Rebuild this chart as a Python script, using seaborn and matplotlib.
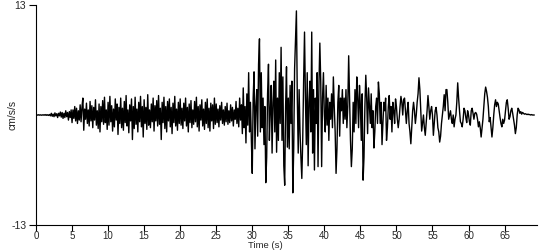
import numpy as np
import pandas as pd
import matplotlib
matplotlib.use("Agg")
import matplotlib.pyplot as plt
import seaborn as sns

# Acceleration samples (cm/s/s), 8 samples per second
seg_00_05 = [0.0, 0.02, -0.02, 0.03, -0.02, 0.02, -0.03, 0.02,
             -0.02, 0.04, -0.03, 0.05, -0.04, 0.03, -0.05, 0.06,
             -0.1, 0.2, -0.15, 0.1, -0.2, 0.25, -0.1, 0.15,
             -0.3, 0.2, -0.1, 0.35, -0.25, 0.3, -0.4, 0.2,
             -0.3, 0.5, -0.2, 0.3, -0.6, 0.4, -0.3, 0.6]
seg_05_10 = [-0.9, 0.6, -0.4, 1.0, -0.7, 0.8, -1.0, 0.5,
             -0.6, 1.2, -0.8, 0.9, 2.0, -1.8, 0.7, -0.5,
             1.4, -1.0, 0.6, -1.3, 1.6, -0.7, 1.1, -1.5,
             0.9, -0.6, 1.8, -1.2, 0.5, -1.6, 1.3, -2.0,
             1.0, -0.8, 1.7, -1.1, 2.1, -0.9, 0.6, -1.7]
seg_10_15 = [1.5, -1.2, 2.2, -0.8, 1.1, -1.9, 0.7, -1.4,
             1.9, -0.6, 1.3, -2.3, 0.9, -1.0, 2.0, -1.5,
             0.8, -1.8, 1.6, -0.9, 2.3, -1.3, 0.6, -2.1,
             1.2, -0.7, 1.9, -2.9, 1.0, -1.6, 2.1, -1.1,
             0.7, -2.0, 1.5, -0.8, 2.2, -1.4, 1.0, -2.6]
seg_15_20 = [1.8, -1.0, 0.9, -1.7, 2.4, -1.2, 0.6, -1.5,
             1.3, -0.8, 2.0, -1.9, 1.1, -0.7, 1.7, -1.3,
             2.3, -1.1, 0.8, -2.9, 1.5, -0.9, 2.1, -1.6,
             1.0, -2.0, 1.6, -0.7, 1.9, -1.4, 0.9, -2.2,
             1.4, -0.9, 2.2, -1.3, 0.7, -1.8, 1.5, -1.0]
seg_20_25 = [1.9, -1.2, 0.8, -1.6, 1.4, -0.7, 2.0, -1.3,
             0.9, -2.0, 1.3, -0.9, 1.7, -1.5, 0.6, -1.1,
             1.6, -0.8, 2.1, -1.4, 1.0, -1.9, 1.2, -0.6,
             1.8, -1.3, 0.7, -1.7, 1.5, -1.0, 1.9, -1.5,
             0.8, -1.9, 1.4, -0.7, 1.2, -1.6, 2.0, -1.1]
seg_25_30 = [1.3, -0.9, 0.7, -1.4, 1.1, -0.6, 1.5, -1.0,
             0.6, -1.2, 1.0, -0.8, 1.4, -1.1, 0.5, -0.9,
             1.2, -0.7, 0.9, -1.3, 0.6, -0.5, 1.6, -1.0,
             0.8, -1.4, 2.0, -0.6, 1.2, -2.2, 3.2, -1.5,
             1.0, -3.3, 2.5, -1.2, 5.0, -2.0, 1.5, -3.0]
seg_30_35 = [-6.9, 2.0, 5.1, -4.0, 1.0, 3.0, -2.5, 6.0,
             9.0, -2.0, 5.0, -1.5, 2.0, -3.5, 1.0, -8.0,
             -5.0, 2.5, 6.0, -3.0, 0.5, 3.5, -4.5, 1.5,
             4.0, -2.0, 6.5, -4.4, 2.0, -3.0, 5.0, -1.0,
             8.0, -3.0, 4.5, -6.0, -8.3, 1.0, 5.7, -3.8]
seg_35_40 = [2.0, -4.0, 3.5, -1.0, 4.0, -9.2, -4.0, 5.5,
             9.0, 12.3, 2.0, -4.5, 3.0, -2.0, -5.0, -7.5,
             -3.0, 4.0, 9.8, 2.0, -3.5, 5.0, -6.0, 1.5,
             4.0, -2.0, 9.8, -4.5, 3.0, -6.5, 2.0, -1.0,
             5.0, -6.1, 3.5, 8.5, 4.0, -6.1, 2.0, 5.0]
seg_40_45 = [0.0, -2.0, 3.5, -1.2, 2.0, -3.0, 1.5, -0.5,
             2.5, -1.5, 4.5, 1.0, -2.0, -6.9, -4.0, 1.5,
             3.5, -2.5, 2.0, 0.5, 3.0, -1.0, 2.0, -0.5,
             3.0, -1.5, 1.0, 7.0, 2.2, -3.0, -6.1, -4.0,
             1.5, -2.0, 3.0, -1.0, 4.5, 2.0, -1.5, 3.5]
seg_45_50 = [1.0, -3.0, 2.5, -7.7, -5.0, 1.0, 4.7, 2.0,
             -2.2, 3.2, 1.0, -1.0, 2.5, -1.5, 0.5, -3.9,
             -2.0, 1.0, 2.0, -1.0, 3.9, 2.5, -1.0, 1.5,
             -3.5, -1.0, 1.5, 0.5, 2.0, -3.0, -1.5, 1.0,
             2.3, -0.5, 1.0, -2.0, 1.5, 0.5, -1.0, 1.9]
seg_50_55 = [1.0, -0.5, -1.5, -0.5, 1.0, 2.2, 1.5, 0.0,
             1.8, 2.0, 0.5, -1.0, 0.5, 1.5, -1.0, -2.0,
             -3.4, -1.5, 0.5, 1.5, 0.5, -1.0, 0.0, 1.5,
             2.5, 4.4, 3.0, 0.5, -1.9, -1.0, 0.0, -1.5,
             -2.4, -1.0, 0.5, 2.3, 1.0, -0.5, 0.5, 1.0]
seg_55_60 = [0.0, -2.4, -1.0, 0.5, 0.9, 0.0, -1.5, -2.0,
             -3.2, -2.5, -1.0, 0.0, 1.0, 2.4, 0.5, 3.0,
             3.0, 1.5, -0.5, 0.0, 0.5, -0.5, -1.0, 0.0,
             -1.4, -0.5, 0.0, 1.5, 3.8, 2.0, 0.5, -0.8,
             -1.0, -1.4, -0.5, 0.8, 0.5, -0.3, -0.9, 0.5]
seg_60_65 = [0.0, -0.8, -1.2, 0.5, 0.8, 0.2, -0.5, 0.2,
             0.3, 0.1, -0.5, -1.4, -0.8, -1.5, -2.6, -1.5,
             -0.5, 1.0, 2.5, 3.3, 2.8, 2.1, 1.0, -0.8,
             -0.3, -1.5, -2.6, -1.5, 0.0, 1.2, 1.8, 1.0,
             1.5, 1.3, 0.5, -0.3, -1.0, -1.4, -0.5, -1.0]
seg_65_70 = [-0.6, 0.5, 1.5, 1.8, 0.8, -0.5, -0.2, 0.5,
             0.8, 0.2, -0.5, -1.2, -2.2, -1.5, 0.0, 0.8,
             0.6, 0.2, 0.4, 0.1, 0.3, 0.2, 0.1, 0.15,
             0.1, 0.05, 0.1, 0.05, 0.05, 0.0, 0.05, 0.0,
             0.0, 0.0]

SAMPLES_PER_SECOND = 8
x_ticks = list(range(0, 70, 5))
y_ticks = [-13, 13]

accel = (seg_00_05 + seg_05_10 + seg_10_15 + seg_15_20 + seg_20_25 + seg_25_30 +
         seg_30_35 + seg_35_40 + seg_40_45 + seg_45_50 + seg_50_55 + seg_55_60 +
         seg_60_65 + seg_65_70)
time_s = np.arange(len(accel)) / SAMPLES_PER_SECOND
df = pd.DataFrame({"Time (s)": time_s, "cm/s/s": accel})

sns.set_style("white")
plt.rcParams["font.family"] = ["Liberation Sans", "DejaVu Sans"]
plt.rcParams["axes.unicode_minus"] = False

fig = plt.figure(figsize=(5.5, 2.5), dpi=100)
ax = fig.add_axes([36 / 550, 25 / 250, (537 - 36) / 550, 220 / 250])
sns.lineplot(data=df, x="Time (s)", y="cm/s/s", ax=ax, color="black",
             linewidth=1.0, estimator=None, sort=False)

ax.set_xlim(0, 69.5)
ax.set_ylim(-13, 13)
ax.set_xticks(x_ticks)
ax.set_yticks(y_ticks)
ax.tick_params(axis="both", labelsize=7.5, length=5, width=0.8, color="black",
               direction="out", pad=2, bottom=True, left=True)
ax.tick_params(axis="x", labelsize=7, length=4, pad=0.5)
for side in ["top", "right"]:
    ax.spines[side].set_visible(False)
for side in ["left", "bottom"]:
    ax.spines[side].set_color("black")
    ax.spines[side].set_linewidth(0.8)
ax.set_xlabel("Time (s)", fontsize=6.8, va="bottom")
ax.set_ylabel("cm/s/s", fontsize=7.5)
ax.xaxis.set_label_coords(0.457, -0.1125)
ax.yaxis.set_label_coords(-0.036, 0.5)

fig.savefig("out.png", dpi=100)
